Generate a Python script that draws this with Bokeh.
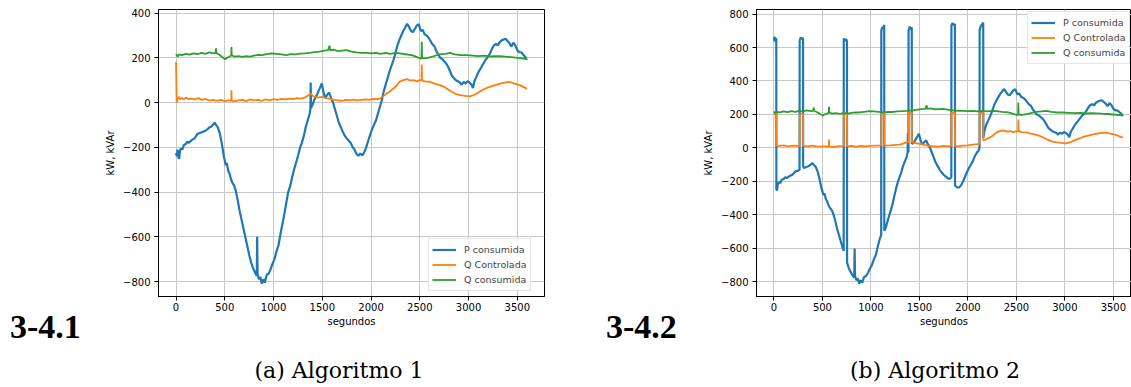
from bokeh.plotting import figure
from bokeh.layouts import row, column
from bokeh.models import (Range1d, Legend, LegendItem, FixedTicker, Div, Spacer,
                          CustomJSTickFormatter)
from bokeh.embed import file_html
from bokeh.resources import INLINE

# ---------------- data ----------------
series_names = ["P consumida", "Q Controlada", "Q consumida"]
colors = ["#1f77b4", "#ff7f0e", "#2ca02c"]
x_ticks = [0, 500, 1000, 1500, 2000, 2500, 3000, 3500]
y_ticks_1 = [-800, -600, -400, -200, 0, 200, 400]
y_ticks_2 = [-800, -600, -400, -200, 0, 200, 400, 600, 800]

# Algoritmo 1 - P consumida (t [s], kW)
p1 = [(0,-225),(8,-240),(15,-210),(25,-245),(32,-252),(40,-215),(50,-205),(65,-210),(80,-190),
      (100,-185),(115,-175),(130,-180),(160,-168),(190,-160),(220,-140),(250,-135),(280,-130),
      (310,-124),(340,-112),(360,-108),(380,-98),(395,-90),(410,-100),(430,-112),(450,-140),
      (470,-185),(490,-240),(510,-280),(520,-270),(535,-305),(550,-320),(565,-345),(580,-360),
      (595,-370),(610,-390),(630,-430),(650,-480),(670,-520),(690,-560),(710,-600),(730,-640),
      (750,-680),(770,-715),(790,-740),(810,-760),(828,-775),(832,-600),(836,-765),(850,-790),
      (865,-780),(880,-810),(895,-790),(910,-805),(930,-770),(950,-765),(970,-745),(990,-720),
      (1010,-700),(1030,-665),(1050,-640),(1070,-590),(1090,-545),(1110,-500),(1130,-450),
      (1150,-400),(1170,-375),(1190,-335),(1210,-300),(1230,-270),(1250,-240),(1270,-205),
      (1290,-180),(1310,-150),(1330,-110),(1350,-80),(1370,-50),(1378,-30),(1381,90),(1384,-25),
      (1400,-10),(1420,15),(1440,30),(1460,50),(1480,70),(1495,85),(1510,50),(1530,20),(1550,35),
      (1570,45),(1590,20),(1610,0),(1630,-30),(1650,-60),(1670,-90),(1690,-110),(1710,-130),
      (1730,-148),(1750,-160),(1770,-170),(1790,-180),(1810,-198),(1830,-210),(1850,-230),
      (1870,-238),(1890,-228),(1910,-236),(1930,-222),(1950,-200),(1970,-172),(1990,-145),
      (2010,-120),(2030,-100),(2050,-80),(2070,-50),(2090,-20),(2110,10),(2130,50),(2150,80),
      (2170,110),(2190,140),(2210,165),(2230,190),(2250,220),(2270,255),(2290,280),(2310,300),
      (2330,320),(2350,335),(2370,352),(2390,338),(2410,320),(2430,315),(2450,330),(2470,345),
      (2490,350),(2510,320),(2530,325),(2550,305),(2570,300),(2590,290),(2610,275),(2630,260),
      (2650,252),(2670,230),(2690,215),(2710,200),(2730,195),(2750,185),(2770,175),(2790,160),
      (2810,140),(2830,120),(2850,110),(2870,100),(2890,95),(2910,90),(2930,80),(2950,92),
      (2970,85),(2990,95),(3010,90),(3030,80),(3045,65),(3060,95),(3080,115),(3100,135),
      (3120,150),(3140,165),(3160,180),(3180,195),(3200,205),(3220,220),(3240,240),(3260,255),
      (3280,262),(3300,255),(3320,270),(3340,278),(3360,282),(3380,285),(3400,275),(3420,265),
      (3440,250),(3460,268),(3480,255),(3500,235),(3520,225),(3540,225),(3560,215),(3580,205),
      (3599,190)]

# Algoritmo 1 - Q Controlada (t [s], kVAr)
q1 = [(0,182),(6,0),(12,8),(20,22),(30,25),(45,15),(60,20),(80,14),(100,22),(130,15),(160,18),
      (200,14),(230,20),(260,12),(300,16),(340,10),(380,12),(420,8),(460,12),(500,6),(540,10),
      (566,8),(568,55),(571,8),(600,5),(640,10),(680,12),(720,6),(760,14),(800,10),(840,12),
      (880,8),(920,14),(960,10),(1000,15),(1040,12),(1080,16),(1120,14),(1160,18),(1200,15),
      (1240,20),(1280,18),(1320,22),(1350,30),(1380,40),(1410,28),(1450,22),(1500,25),(1540,20),
      (1580,16),(1620,12),(1660,10),(1700,8),(1740,12),(1780,10),(1820,13),(1860,10),(1900,12),
      (1940,14),(1980,12),(2020,16),(2060,15),(2092,18),(2130,30),(2160,40),(2200,52),(2229,63),
      (2260,75),(2297,95),(2330,100),(2370,105),(2400,98),(2435,100),(2470,95),(2500,100),
      (2518,98),(2520,170),(2523,100),(2550,95),(2605,93),(2650,85),(2708,78),(2750,70),
      (2776,63),(2827,48),(2870,38),(2920,33),(2960,30),(3015,28),(3060,35),(3100,45),(3152,58),
      (3200,68),(3250,75),(3323,85),(3380,90),(3426,92),(3470,85),(3528,78),(3560,70),(3599,62)]

# Q consumida (same load in both runs)
qc = [(0,218),(15,205),(30,215),(60,212),(100,218),(140,214),(180,220),(220,216),(260,222),
      (300,218),(340,224),(380,220),(405,222),(410,242),(414,222),(440,215),(470,205),(490,198),
      (503,193),(520,200),(545,205),(566,210),(568,248),(571,212),(600,205),(640,208),(680,204),
      (720,208),(760,205),(800,210),(840,213),(880,212),(930,216),(980,220),(1030,218),
      (1080,215),(1130,212),(1180,216),(1230,215),(1272,219),(1320,220),(1370,222),(1420,225),
      (1470,228),(1520,232),(1560,234),(1575,255),(1580,234),(1620,236),(1660,230),(1700,232),
      (1750,234),(1800,228),(1850,224),(1900,222),(1955,222),(2000,220),(2050,222),(2100,218),
      (2150,222),(2200,218),(2250,222),(2297,220),(2350,216),(2417,212),(2460,205),(2503,197),
      (2517,198),(2520,272),(2523,200),(2560,198),(2600,202),(2639,207),(2700,215),(2760,218),
      (2810,222),(2860,215),(2920,212),(2981,212),(3040,210),(3100,208),(3160,210),(3220,206),
      (3280,208),(3323,207),(3380,205),(3440,203),(3500,200),(3562,197),(3599,195)]

# Algoritmo 2 - P consumida (t [s], kW)
p2 = [(0,640),(5,665),(12,635),(18,655),(24,650),(25,-250),(32,-252),(40,-215),(50,-205),
      (65,-210),(80,-190),(100,-185),(115,-175),(130,-180),(160,-168),(190,-160),(220,-140),
      (250,-135),(264,-130),(265,640),(275,660),(290,650),(300,658),(301,-110),(310,-120),
      (340,-112),(360,-108),(380,-98),(395,-90),(410,-100),(430,-112),(450,-140),(470,-185),
      (490,-240),(510,-280),(520,-270),(535,-305),(550,-320),(565,-345),(580,-360),(595,-370),
      (610,-390),(630,-430),(650,-480),(670,-520),(690,-560),(710,-600),(719,-615),(720,655),
      (730,640),(745,650),(753,635),(754,-685),(770,-715),(790,-740),(810,-760),(828,-775),
      (832,-600),(836,-765),(850,-790),(865,-780),(880,-810),(895,-790),(910,-805),(930,-770),
      (950,-765),(970,-745),(990,-720),(1010,-700),(1030,-665),(1050,-640),(1070,-590),
      (1090,-545),(1106,-520),(1107,700),(1115,720),(1125,715),(1137,735),(1138,-495),
      (1150,-480),(1170,-440),(1190,-400),(1216,-352),(1240,-290),(1260,-240),(1284,-192),
      (1310,-150),(1330,-110),(1350,-80),(1370,-50),(1378,-30),(1381,90),(1384,-25),(1387,-20),
      (1388,700),(1400,725),(1410,710),(1421,720),(1422,25),(1440,30),(1460,50),(1480,70),
      (1495,85),(1510,50),(1530,20),(1550,35),(1570,45),(1590,20),(1610,0),(1630,-30),
      (1650,-60),(1670,-90),(1690,-110),(1710,-130),(1730,-148),(1750,-160),(1770,-170),
      (1790,-180),(1810,-185),(1829,-175),(1830,730),(1840,745),(1855,735),(1866,740),
      (1867,-225),(1890,-235),(1910,-236),(1930,-222),(1950,-200),(1970,-172),(1990,-145),
      (2010,-120),(2030,-100),(2050,-80),(2070,-50),(2090,-30),(2110,-15),(2120,0),(2121,705),
      (2135,730),(2150,740),(2158,750),(2159,60),(2170,100),(2190,140),(2210,165),(2230,190),
      (2250,220),(2270,255),(2290,280),(2310,300),(2330,320),(2350,335),(2370,352),(2390,338),
      (2410,320),(2430,315),(2450,330),(2470,345),(2490,350),(2510,320),(2530,325),(2550,305),
      (2570,300),(2590,290),(2610,275),(2630,260),(2650,252),(2670,230),(2690,215),(2710,200),
      (2730,195),(2750,185),(2770,175),(2790,160),(2810,140),(2830,120),(2850,110),(2870,100),
      (2890,95),(2910,90),(2930,80),(2950,92),(2970,85),(2990,95),(3010,90),(3030,80),
      (3045,65),(3060,95),(3080,115),(3100,135),(3120,150),(3140,165),(3160,180),(3180,195),
      (3200,205),(3220,220),(3240,240),(3260,255),(3280,262),(3300,255),(3320,270),(3340,278),
      (3360,282),(3380,285),(3400,275),(3420,265),(3440,250),(3460,268),(3480,255),(3500,235),
      (3520,225),(3540,225),(3560,215),(3580,205),(3599,190)]

# Algoritmo 2 - Q Controlada (t [s], kVAr)
q2 = [(0,200),(24,205),(26,20),(35,10),(60,12),(100,15),(150,10),(200,14),(264,12),(265,205),
      (300,205),(301,12),(350,10),(400,14),(450,8),(500,10),(566,10),(568,50),(571,8),(600,5),
      (650,10),(719,12),(720,205),(753,205),(754,10),(800,12),(850,8),(900,12),(950,10),
      (1000,12),(1050,14),(1106,15),(1107,205),(1137,205),(1138,14),(1200,16),(1250,18),
      (1300,20),(1350,30),(1387,35),(1388,210),(1421,210),(1422,35),(1450,30),(1500,25),
      (1550,18),(1600,12),(1650,10),(1700,8),(1750,12),(1800,10),(1829,12),(1830,210),
      (1866,210),(1867,12),(1900,10),(1950,14),(2000,15),(2050,20),(2120,25),(2121,210),
      (2158,210),(2159,45),(2200,55),(2229,63),(2260,75),(2297,95),(2330,100),(2370,105),
      (2400,98),(2435,100),(2470,95),(2500,100),(2518,98),(2520,170),(2523,100),(2550,95),
      (2605,93),(2650,85),(2708,78),(2750,70),(2776,63),(2827,48),(2870,38),(2920,33),
      (2960,30),(3015,28),(3060,35),(3100,45),(3152,58),(3200,68),(3250,75),(3323,85),
      (3380,90),(3426,92),(3470,85),(3528,78),(3560,70),(3599,62)]

panel_tags = ["3-4.1", "3-4.2"]
captions = ["(a) Algoritmo 1", "(b) Algoritmo 2"]

# ---------------- drawing ----------------
FONT = "DejaVu Sans"
fmt_code = "return tick < 0 ? '\u2212' + (-tick) : '' + tick;"
line_widths = [2.2, 1.8, 1.8]


def make_panel(width, border_left, border_right, x_end, y_start, y_end, y_ticks,
               data, legend_loc):
    p = figure(width=width, height=340, output_backend="svg", toolbar_location=None,
               x_range=Range1d(-180, x_end), y_range=Range1d(y_start, y_end),
               min_border_left=border_left, min_border_right=border_right,
               min_border_top=9, min_border_bottom=44,
               background_fill_color="white", border_fill_color="white",
               outline_line_color="black", outline_line_width=1)
    p.xaxis.ticker = FixedTicker(ticks=x_ticks)
    p.yaxis.ticker = FixedTicker(ticks=y_ticks)
    p.yaxis.formatter = CustomJSTickFormatter(code=fmt_code)
    for ax in (p.xaxis[0], p.yaxis[0]):
        ax.axis_line_color = "black"
        ax.axis_line_width = 1
        ax.major_tick_line_color = "black"
        ax.major_tick_out = 4
        ax.major_tick_in = 0
        ax.minor_tick_line_color = None
        ax.major_label_text_font = FONT
        ax.major_label_text_font_size = "10px"
        ax.major_label_text_color = "black"
        ax.axis_label_text_font = FONT
        ax.axis_label_text_font_size = "10px"
        ax.axis_label_text_font_style = "normal"
        ax.axis_label_text_color = "black"
    p.xaxis.major_label_standoff = 2
    p.xaxis.axis_label_standoff = 2
    p.yaxis.major_label_standoff = 4
    p.yaxis.axis_label_standoff = 4
    p.xaxis.axis_label = "segundos"
    p.yaxis.axis_label = "kW, kVAr"
    p.xgrid.grid_line_color = "#c8c8c8"
    p.ygrid.grid_line_color = "#c8c8c8"
    p.xgrid.grid_line_width = 1
    p.ygrid.grid_line_width = 1

    items = []
    for name, col, lw, pts in zip(series_names, colors, line_widths, data):
        t = [a for a, _ in pts]
        v = [b for _, b in pts]
        r = p.line(t, v, line_color=col, line_width=lw)
        items.append(LegendItem(label=name, renderers=[r]))
    leg = Legend(items=items, location=legend_loc, padding=3, spacing=0,
                 label_height=15, glyph_height=15, glyph_width=24, label_standoff=8,
                 margin=0, border_line_color="#cccccc", border_line_width=1,
                 background_fill_color="white", background_fill_alpha=0.85,
                 label_text_font=FONT, label_text_font_size="9.5px")
    p.add_layout(leg)
    return p


def tag_column(text, left_pad):
    return column(
        Spacer(width=100, height=313),
        Div(text=text, width=100 - left_pad, height=27, margin=(0, 0, 0, left_pad),
            styles={"font-family": "Liberation Serif", "font-weight": "bold",
                    "font-size": "34px", "line-height": "28px", "color": "black",
                    "white-space": "nowrap"}),
        spacing=0)


cap_style = {"font-family": "DejaVu Serif", "font-size": "22px", "line-height": "26px",
             "color": "black", "text-align": "center", "white-space": "nowrap"}

p_left = make_panel(500, 58, 56, 3779, -867, 416, y_ticks_1, [p1, q1, qc], (270, 5))
p_right = make_panel(431, 54, 0, 3687, -887, 827, y_ticks_2, [p2, q2, qc], (271, 232))

top = row(tag_column(panel_tags[0], 10), p_left, tag_column(panel_tags[1], 6), p_right,
          spacing=0)
bottom = row(
    Div(text=captions[0], width=678, height=26, margin=(18, 0, 0, 0), styles=cap_style),
    Div(text=captions[1], width=392, height=26, margin=(18, 0, 0, 61), styles=cap_style),
    spacing=0)

layout = column(top, bottom, spacing=0)
open("out.html", "w").write(file_html(layout, INLINE))
